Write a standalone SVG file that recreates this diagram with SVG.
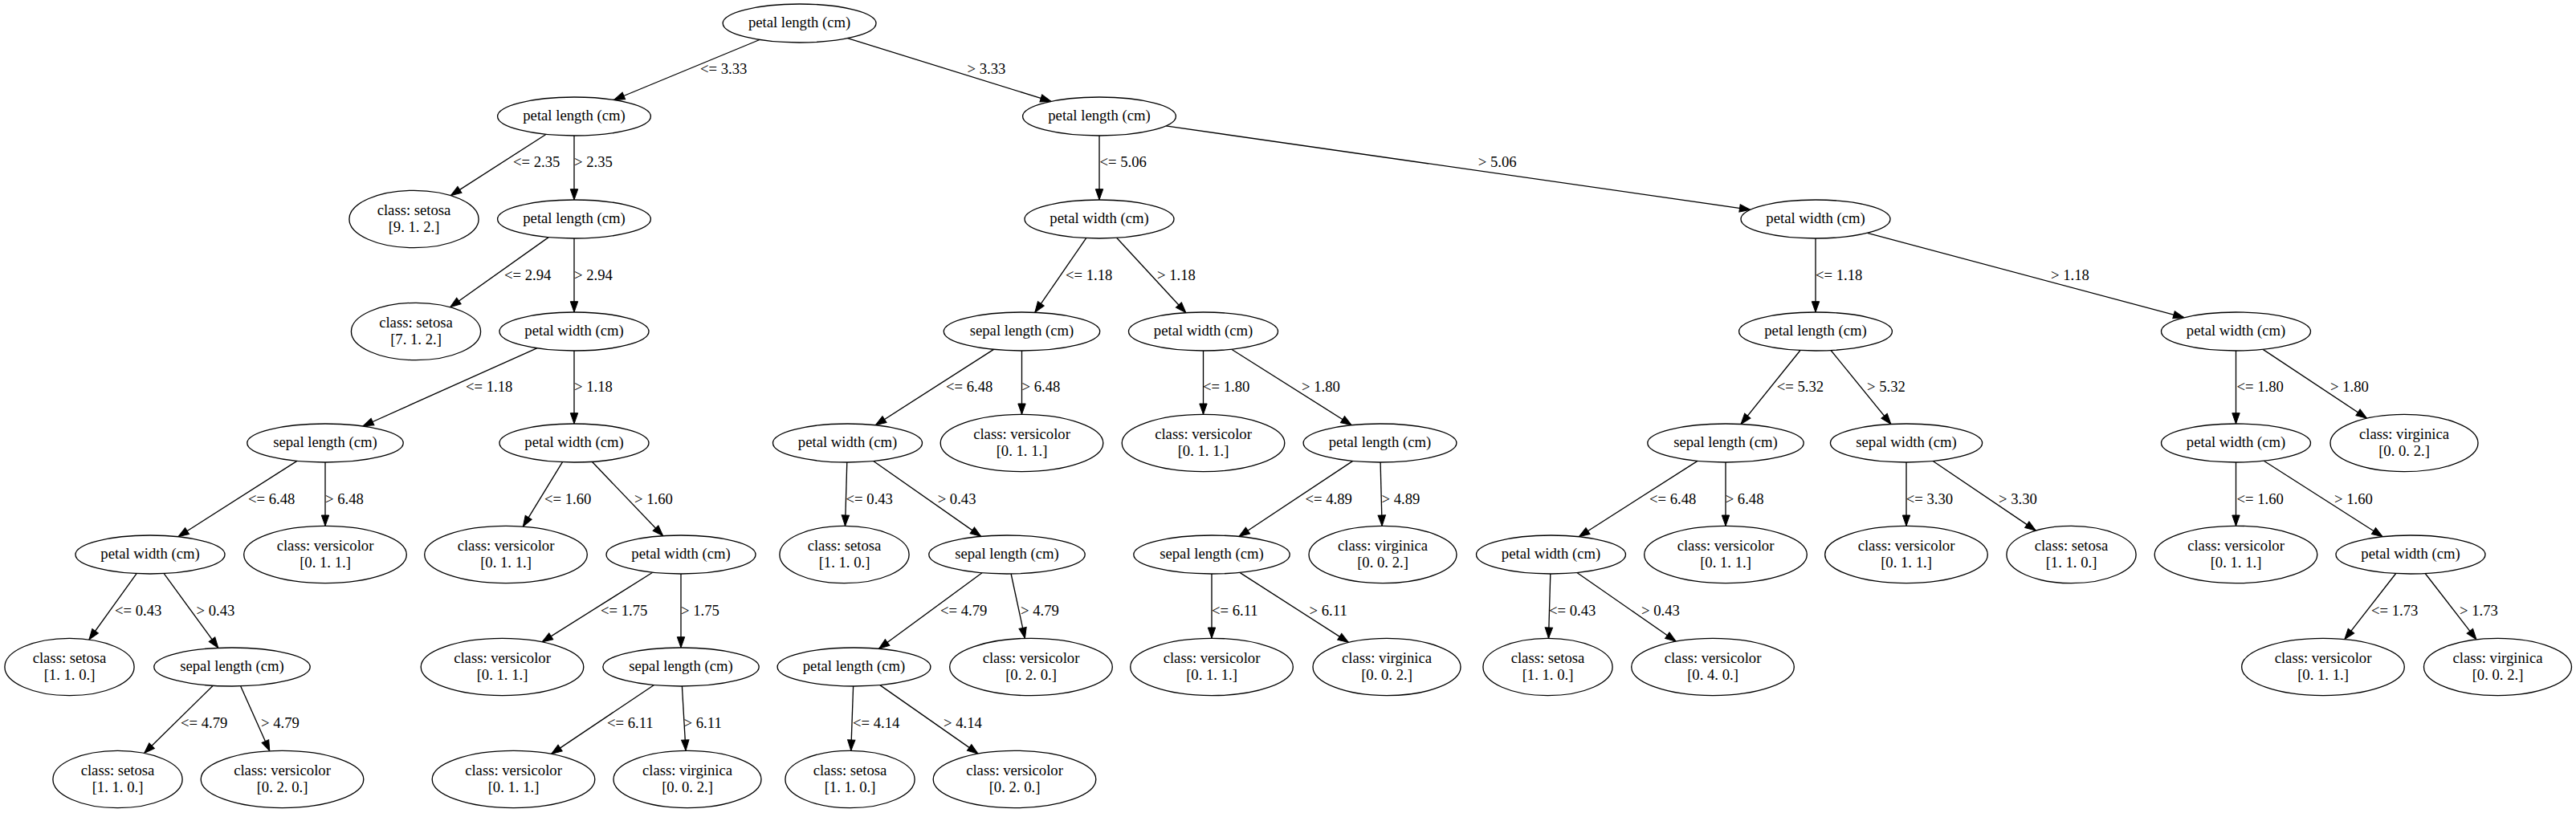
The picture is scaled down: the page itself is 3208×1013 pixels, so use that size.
<svg xmlns="http://www.w3.org/2000/svg" width="3208" height="1013" viewBox="0 0 3208 1013">
<style>
text{font-family:"Liberation Serif","Times New Roman",serif;font-size:18.67px;fill:#000}
.node ellipse{fill:#fff;stroke:#000;stroke-width:1.33}
.node text{text-anchor:middle}
.edges line{stroke:#000;stroke-width:1.33;fill:none}
.edges text{text-anchor:start}
</style>
<defs>
<marker id="a" markerUnits="userSpaceOnUse" markerWidth="16" markerHeight="12" refX="13.3" refY="4.7" orient="auto" overflow="visible">
<path d="M0,0 L13.3,4.7 L0,9.4 Z" fill="#000" stroke="#000" stroke-width="1"/>
</marker>
</defs>
<rect width="3208" height="1013" fill="#fff"/>
<g id="edges" class="edges">
<line x1="946" y1="49.5" x2="764.6" y2="124.5" marker-end="url(#a)"/><text x="872" y="92">&lt;= 3.33</text>
<line x1="1055.6" y1="47.7" x2="1309" y2="126.3" marker-end="url(#a)"/><text x="1204.5" y="92">&gt; 3.33</text>
<line x1="680.2" y1="167.3" x2="561.3" y2="243.6" marker-end="url(#a)"/><text x="639" y="208">&lt;= 2.35</text>
<line x1="715" y1="169" x2="715" y2="249" marker-end="url(#a)"/><text x="715" y="208">&gt; 2.35</text>
<line x1="683.2" y1="295.6" x2="560.6" y2="382.7" marker-end="url(#a)"/><text x="628" y="349">&lt;= 2.94</text>
<line x1="715" y1="297" x2="715" y2="389" marker-end="url(#a)"/><text x="715" y="349">&gt; 2.94</text>
<line x1="668.6" y1="433.8" x2="451.9" y2="531" marker-end="url(#a)"/><text x="580" y="488">&lt;= 1.18</text>
<line x1="715" y1="437" x2="715" y2="528" marker-end="url(#a)"/><text x="715" y="488">&gt; 1.18</text>
<line x1="369.9" y1="574.4" x2="221.9" y2="668.8" marker-end="url(#a)"/><text x="309" y="628">&lt;= 6.48</text>
<line x1="405" y1="576" x2="405" y2="655.3" marker-end="url(#a)"/><text x="405" y="628">&gt; 6.48</text>
<line x1="700.5" y1="575.7" x2="651.3" y2="656.1" marker-end="url(#a)"/><text x="678" y="628">&lt;= 1.60</text>
<line x1="737.3" y1="575.3" x2="825.7" y2="667.7" marker-end="url(#a)"/><text x="790" y="628">&gt; 1.60</text>
<line x1="170.1" y1="714.6" x2="110.9" y2="797" marker-end="url(#a)"/><text x="143" y="767">&lt;= 0.43</text>
<line x1="204.2" y1="714.6" x2="271.8" y2="807.4" marker-end="url(#a)"/><text x="244.5" y="767">&gt; 0.43</text>
<line x1="265.3" y1="854.3" x2="179.6" y2="938.5" marker-end="url(#a)"/><text x="225" y="907">&lt;= 4.79</text>
<line x1="299.7" y1="854.9" x2="335.8" y2="935.7" marker-end="url(#a)"/><text x="325" y="907">&gt; 4.79</text>
<line x1="812.7" y1="713.2" x2="675" y2="799.9" marker-end="url(#a)"/><text x="748" y="767">&lt;= 1.75</text>
<line x1="848" y1="715" x2="848" y2="807" marker-end="url(#a)"/><text x="848" y="767">&gt; 1.75</text>
<line x1="814.5" y1="853.5" x2="686.6" y2="939.4" marker-end="url(#a)"/><text x="756" y="907">&lt;= 6.11</text>
<line x1="849.4" y1="855" x2="854" y2="935.3" marker-end="url(#a)"/><text x="851.6" y="907">&gt; 6.11</text>
<line x1="1369" y1="169" x2="1369" y2="249" marker-end="url(#a)"/><text x="1369.5" y="208">&lt;= 5.06</text>
<line x1="1451.9" y1="156.9" x2="2179.7" y2="261.3" marker-end="url(#a)"/><text x="1840.8" y="208">&gt; 5.06</text>
<line x1="1352.7" y1="296.6" x2="1288.8" y2="389.3" marker-end="url(#a)"/><text x="1327" y="349">&lt;= 1.18</text>
<line x1="1390.6" y1="296.3" x2="1476.9" y2="389.7" marker-end="url(#a)"/><text x="1441" y="349">&gt; 1.18</text>
<line x1="1237.5" y1="435.4" x2="1090.3" y2="529.7" marker-end="url(#a)"/><text x="1178" y="488">&lt;= 6.48</text>
<line x1="1272.5" y1="437" x2="1272.5" y2="516.3" marker-end="url(#a)"/><text x="1272.6" y="488">&gt; 6.48</text>
<line x1="1498.5" y1="437" x2="1498.5" y2="516.3" marker-end="url(#a)"/><text x="1498" y="488">&lt;= 1.80</text>
<line x1="1533.7" y1="435.2" x2="1683.2" y2="529.7" marker-end="url(#a)"/><text x="1621" y="488">&gt; 1.80</text>
<line x1="1054.8" y1="576" x2="1052.5" y2="655.3" marker-end="url(#a)"/><text x="1053.6" y="628">&lt;= 0.43</text>
<line x1="1087.7" y1="574.5" x2="1221.7" y2="668.4" marker-end="url(#a)"/><text x="1167.7" y="628">&gt; 0.43</text>
<line x1="1223" y1="713.8" x2="1094.4" y2="808.3" marker-end="url(#a)"/><text x="1171" y="767">&lt;= 4.79</text>
<line x1="1259.1" y1="715" x2="1276.4" y2="795.4" marker-end="url(#a)"/><text x="1271" y="767">&gt; 4.79</text>
<line x1="1062.6" y1="855" x2="1059.8" y2="935.3" marker-end="url(#a)"/><text x="1062" y="907">&lt;= 4.14</text>
<line x1="1095.8" y1="853.6" x2="1218" y2="939.1" marker-end="url(#a)"/><text x="1175" y="907">&gt; 4.14</text>
<line x1="1684.7" y1="574.4" x2="1542.9" y2="668.5" marker-end="url(#a)"/><text x="1625.5" y="628">&lt;= 4.89</text>
<line x1="1719.1" y1="576" x2="1721.1" y2="655.3" marker-end="url(#a)"/><text x="1720.6" y="628">&gt; 4.89</text>
<line x1="1509" y1="715" x2="1509" y2="795.3" marker-end="url(#a)"/><text x="1509" y="767">&lt;= 6.11</text>
<line x1="1543.9" y1="713.4" x2="1679.4" y2="800.4" marker-end="url(#a)"/><text x="1630.6" y="767">&gt; 6.11</text>
<line x1="2261" y1="297" x2="2261" y2="389" marker-end="url(#a)"/><text x="2261" y="349">&lt;= 1.18</text>
<line x1="2325.6" y1="290.3" x2="2719.9" y2="395.7" marker-end="url(#a)"/><text x="2554" y="349">&gt; 1.18</text>
<line x1="2242" y1="436.5" x2="2168" y2="528.5" marker-end="url(#a)"/><text x="2212.7" y="488">&lt;= 5.32</text>
<line x1="2280.1" y1="436.5" x2="2354.9" y2="528.5" marker-end="url(#a)"/><text x="2325" y="488">&gt; 5.32</text>
<line x1="2114" y1="574.4" x2="1966.3" y2="668.7" marker-end="url(#a)"/><text x="2054" y="628">&lt;= 6.48</text>
<line x1="2149" y1="576" x2="2149" y2="655.3" marker-end="url(#a)"/><text x="2148.7" y="628">&gt; 6.48</text>
<line x1="2374" y1="576" x2="2374" y2="655.3" marker-end="url(#a)"/><text x="2373.8" y="628">&lt;= 3.30</text>
<line x1="2407.2" y1="574.5" x2="2535.3" y2="661.1" marker-end="url(#a)"/><text x="2489" y="628">&gt; 3.30</text>
<line x1="1930.8" y1="715" x2="1928.5" y2="795.3" marker-end="url(#a)"/><text x="1929" y="767">&lt;= 0.43</text>
<line x1="1963.9" y1="713.5" x2="2087.2" y2="799.2" marker-end="url(#a)"/><text x="2044" y="767">&gt; 0.43</text>
<line x1="2784.5" y1="437" x2="2784.5" y2="528" marker-end="url(#a)"/><text x="2785.5" y="488">&lt;= 1.80</text>
<line x1="2818.2" y1="435.4" x2="2947.6" y2="521.2" marker-end="url(#a)"/><text x="2902" y="488">&gt; 1.80</text>
<line x1="2784.5" y1="576" x2="2784.5" y2="655.3" marker-end="url(#a)"/><text x="2785.5" y="628">&lt;= 1.60</text>
<line x1="2819.3" y1="574.3" x2="2967.2" y2="668.7" marker-end="url(#a)"/><text x="2907" y="628">&gt; 1.60</text>
<line x1="2983.7" y1="714.5" x2="2919.8" y2="796.6" marker-end="url(#a)"/><text x="2953" y="767">&lt;= 1.73</text>
<line x1="3020.2" y1="714.5" x2="3084" y2="796.8" marker-end="url(#a)"/><text x="3063" y="767">&gt; 1.73</text>
</g>
<g id="n0" class="node"><ellipse cx="995.6" cy="29" rx="95.4" ry="24"/><text x="995.6" y="34">petal length (cm)</text></g>
<g id="n1" class="node"><ellipse cx="715" cy="145" rx="95.4" ry="24"/><text x="715" y="150">petal length (cm)</text></g>
<g id="n2" class="node"><ellipse cx="515.5" cy="273" rx="80.6" ry="35.7"/><text x="515.5" y="268">class: setosa</text><text x="515.5" y="289">[9. 1. 2.]</text></g>
<g id="n3" class="node"><ellipse cx="715" cy="273" rx="95.4" ry="24"/><text x="715" y="278">petal length (cm)</text></g>
<g id="n4" class="node"><ellipse cx="518" cy="413" rx="80.6" ry="35.7"/><text x="518" y="408">class: setosa</text><text x="518" y="429">[7. 1. 2.]</text></g>
<g id="n5" class="node"><ellipse cx="715" cy="413" rx="93" ry="24"/><text x="715" y="418">petal width (cm)</text></g>
<g id="n6" class="node"><ellipse cx="405" cy="552" rx="97.2" ry="24"/><text x="405" y="557">sepal length (cm)</text></g>
<g id="n7" class="node"><ellipse cx="715" cy="552" rx="93" ry="24"/><text x="715" y="557">petal width (cm)</text></g>
<g id="n8" class="node"><ellipse cx="187" cy="691" rx="93" ry="24"/><text x="187" y="696">petal width (cm)</text></g>
<g id="n9" class="node"><ellipse cx="86.5" cy="831" rx="80.6" ry="35.7"/><text x="86.5" y="826">class: setosa</text><text x="86.5" y="847">[1. 1. 0.]</text></g>
<g id="n10" class="node"><ellipse cx="289" cy="831" rx="97.2" ry="24"/><text x="289" y="836">sepal length (cm)</text></g>
<g id="n11" class="node"><ellipse cx="146.5" cy="971" rx="80.6" ry="35.7"/><text x="146.5" y="966">class: setosa</text><text x="146.5" y="987">[1. 1. 0.]</text></g>
<g id="n12" class="node"><ellipse cx="351.5" cy="971" rx="101.3" ry="35.7"/><text x="351.5" y="966">class: versicolor</text><text x="351.5" y="987">[0. 2. 0.]</text></g>
<g id="n13" class="node"><ellipse cx="405" cy="691" rx="101.3" ry="35.7"/><text x="405" y="686">class: versicolor</text><text x="405" y="707">[0. 1. 1.]</text></g>
<g id="n14" class="node"><ellipse cx="630" cy="691" rx="101.3" ry="35.7"/><text x="630" y="686">class: versicolor</text><text x="630" y="707">[0. 1. 1.]</text></g>
<g id="n15" class="node"><ellipse cx="848" cy="691" rx="93" ry="24"/><text x="848" y="696">petal width (cm)</text></g>
<g id="n16" class="node"><ellipse cx="625.5" cy="831" rx="101.3" ry="35.7"/><text x="625.5" y="826">class: versicolor</text><text x="625.5" y="847">[0. 1. 1.]</text></g>
<g id="n17" class="node"><ellipse cx="848" cy="831" rx="97.2" ry="24"/><text x="848" y="836">sepal length (cm)</text></g>
<g id="n18" class="node"><ellipse cx="639.5" cy="971" rx="101.3" ry="35.7"/><text x="639.5" y="966">class: versicolor</text><text x="639.5" y="987">[0. 1. 1.]</text></g>
<g id="n19" class="node"><ellipse cx="856" cy="971" rx="92" ry="35.7"/><text x="856" y="966">class: virginica</text><text x="856" y="987">[0. 0. 2.]</text></g>
<g id="n20" class="node"><ellipse cx="1369" cy="145" rx="95.4" ry="24"/><text x="1369" y="150">petal length (cm)</text></g>
<g id="n21" class="node"><ellipse cx="1369" cy="273" rx="93" ry="24"/><text x="1369" y="278">petal width (cm)</text></g>
<g id="n22" class="node"><ellipse cx="1272.5" cy="413" rx="97.2" ry="24"/><text x="1272.5" y="418">sepal length (cm)</text></g>
<g id="n23" class="node"><ellipse cx="1055.5" cy="552" rx="93" ry="24"/><text x="1055.5" y="557">petal width (cm)</text></g>
<g id="n24" class="node"><ellipse cx="1051.5" cy="691" rx="80.6" ry="35.7"/><text x="1051.5" y="686">class: setosa</text><text x="1051.5" y="707">[1. 1. 0.]</text></g>
<g id="n25" class="node"><ellipse cx="1254" cy="691" rx="97.2" ry="24"/><text x="1254" y="696">sepal length (cm)</text></g>
<g id="n26" class="node"><ellipse cx="1063.5" cy="831" rx="95.4" ry="24"/><text x="1063.5" y="836">petal length (cm)</text></g>
<g id="n27" class="node"><ellipse cx="1058.5" cy="971" rx="80.6" ry="35.7"/><text x="1058.5" y="966">class: setosa</text><text x="1058.5" y="987">[1. 1. 0.]</text></g>
<g id="n28" class="node"><ellipse cx="1263.5" cy="971" rx="101.3" ry="35.7"/><text x="1263.5" y="966">class: versicolor</text><text x="1263.5" y="987">[0. 2. 0.]</text></g>
<g id="n29" class="node"><ellipse cx="1284" cy="831" rx="101.3" ry="35.7"/><text x="1284" y="826">class: versicolor</text><text x="1284" y="847">[0. 2. 0.]</text></g>
<g id="n30" class="node"><ellipse cx="1272.5" cy="552" rx="101.3" ry="35.7"/><text x="1272.5" y="547">class: versicolor</text><text x="1272.5" y="568">[0. 1. 1.]</text></g>
<g id="n31" class="node"><ellipse cx="1498.5" cy="413" rx="93" ry="24"/><text x="1498.5" y="418">petal width (cm)</text></g>
<g id="n32" class="node"><ellipse cx="1498.5" cy="552" rx="101.3" ry="35.7"/><text x="1498.5" y="547">class: versicolor</text><text x="1498.5" y="568">[0. 1. 1.]</text></g>
<g id="n33" class="node"><ellipse cx="1718.5" cy="552" rx="95.4" ry="24"/><text x="1718.5" y="557">petal length (cm)</text></g>
<g id="n34" class="node"><ellipse cx="1509" cy="691" rx="97.2" ry="24"/><text x="1509" y="696">sepal length (cm)</text></g>
<g id="n35" class="node"><ellipse cx="1509" cy="831" rx="101.3" ry="35.7"/><text x="1509" y="826">class: versicolor</text><text x="1509" y="847">[0. 1. 1.]</text></g>
<g id="n36" class="node"><ellipse cx="1727" cy="831" rx="92" ry="35.7"/><text x="1727" y="826">class: virginica</text><text x="1727" y="847">[0. 0. 2.]</text></g>
<g id="n37" class="node"><ellipse cx="1722" cy="691" rx="92" ry="35.7"/><text x="1722" y="686">class: virginica</text><text x="1722" y="707">[0. 0. 2.]</text></g>
<g id="n38" class="node"><ellipse cx="2261" cy="273" rx="93" ry="24"/><text x="2261" y="278">petal width (cm)</text></g>
<g id="n39" class="node"><ellipse cx="2261" cy="413" rx="95.4" ry="24"/><text x="2261" y="418">petal length (cm)</text></g>
<g id="n40" class="node"><ellipse cx="2149" cy="552" rx="97.2" ry="24"/><text x="2149" y="557">sepal length (cm)</text></g>
<g id="n41" class="node"><ellipse cx="1931.5" cy="691" rx="93" ry="24"/><text x="1931.5" y="696">petal width (cm)</text></g>
<g id="n42" class="node"><ellipse cx="1927.5" cy="831" rx="80.6" ry="35.7"/><text x="1927.5" y="826">class: setosa</text><text x="1927.5" y="847">[1. 1. 0.]</text></g>
<g id="n43" class="node"><ellipse cx="2133" cy="831" rx="101.3" ry="35.7"/><text x="2133" y="826">class: versicolor</text><text x="2133" y="847">[0. 4. 0.]</text></g>
<g id="n44" class="node"><ellipse cx="2149" cy="691" rx="101.3" ry="35.7"/><text x="2149" y="686">class: versicolor</text><text x="2149" y="707">[0. 1. 1.]</text></g>
<g id="n45" class="node"><ellipse cx="2374" cy="552" rx="94.6" ry="24"/><text x="2374" y="557">sepal width (cm)</text></g>
<g id="n46" class="node"><ellipse cx="2374" cy="691" rx="101.3" ry="35.7"/><text x="2374" y="686">class: versicolor</text><text x="2374" y="707">[0. 1. 1.]</text></g>
<g id="n47" class="node"><ellipse cx="2579.5" cy="691" rx="80.6" ry="35.7"/><text x="2579.5" y="686">class: setosa</text><text x="2579.5" y="707">[1. 1. 0.]</text></g>
<g id="n48" class="node"><ellipse cx="2784.5" cy="413" rx="93" ry="24"/><text x="2784.5" y="418">petal width (cm)</text></g>
<g id="n49" class="node"><ellipse cx="2784.5" cy="552" rx="93" ry="24"/><text x="2784.5" y="557">petal width (cm)</text></g>
<g id="n50" class="node"><ellipse cx="2784.5" cy="691" rx="101.3" ry="35.7"/><text x="2784.5" y="686">class: versicolor</text><text x="2784.5" y="707">[0. 1. 1.]</text></g>
<g id="n51" class="node"><ellipse cx="3002" cy="691" rx="93" ry="24"/><text x="3002" y="696">petal width (cm)</text></g>
<g id="n52" class="node"><ellipse cx="2893" cy="831" rx="101.3" ry="35.7"/><text x="2893" y="826">class: versicolor</text><text x="2893" y="847">[0. 1. 1.]</text></g>
<g id="n53" class="node"><ellipse cx="3110.5" cy="831" rx="92" ry="35.7"/><text x="3110.5" y="826">class: virginica</text><text x="3110.5" y="847">[0. 0. 2.]</text></g>
<g id="n54" class="node"><ellipse cx="2994" cy="552" rx="92" ry="35.7"/><text x="2994" y="547">class: virginica</text><text x="2994" y="568">[0. 0. 2.]</text></g>
</svg>
